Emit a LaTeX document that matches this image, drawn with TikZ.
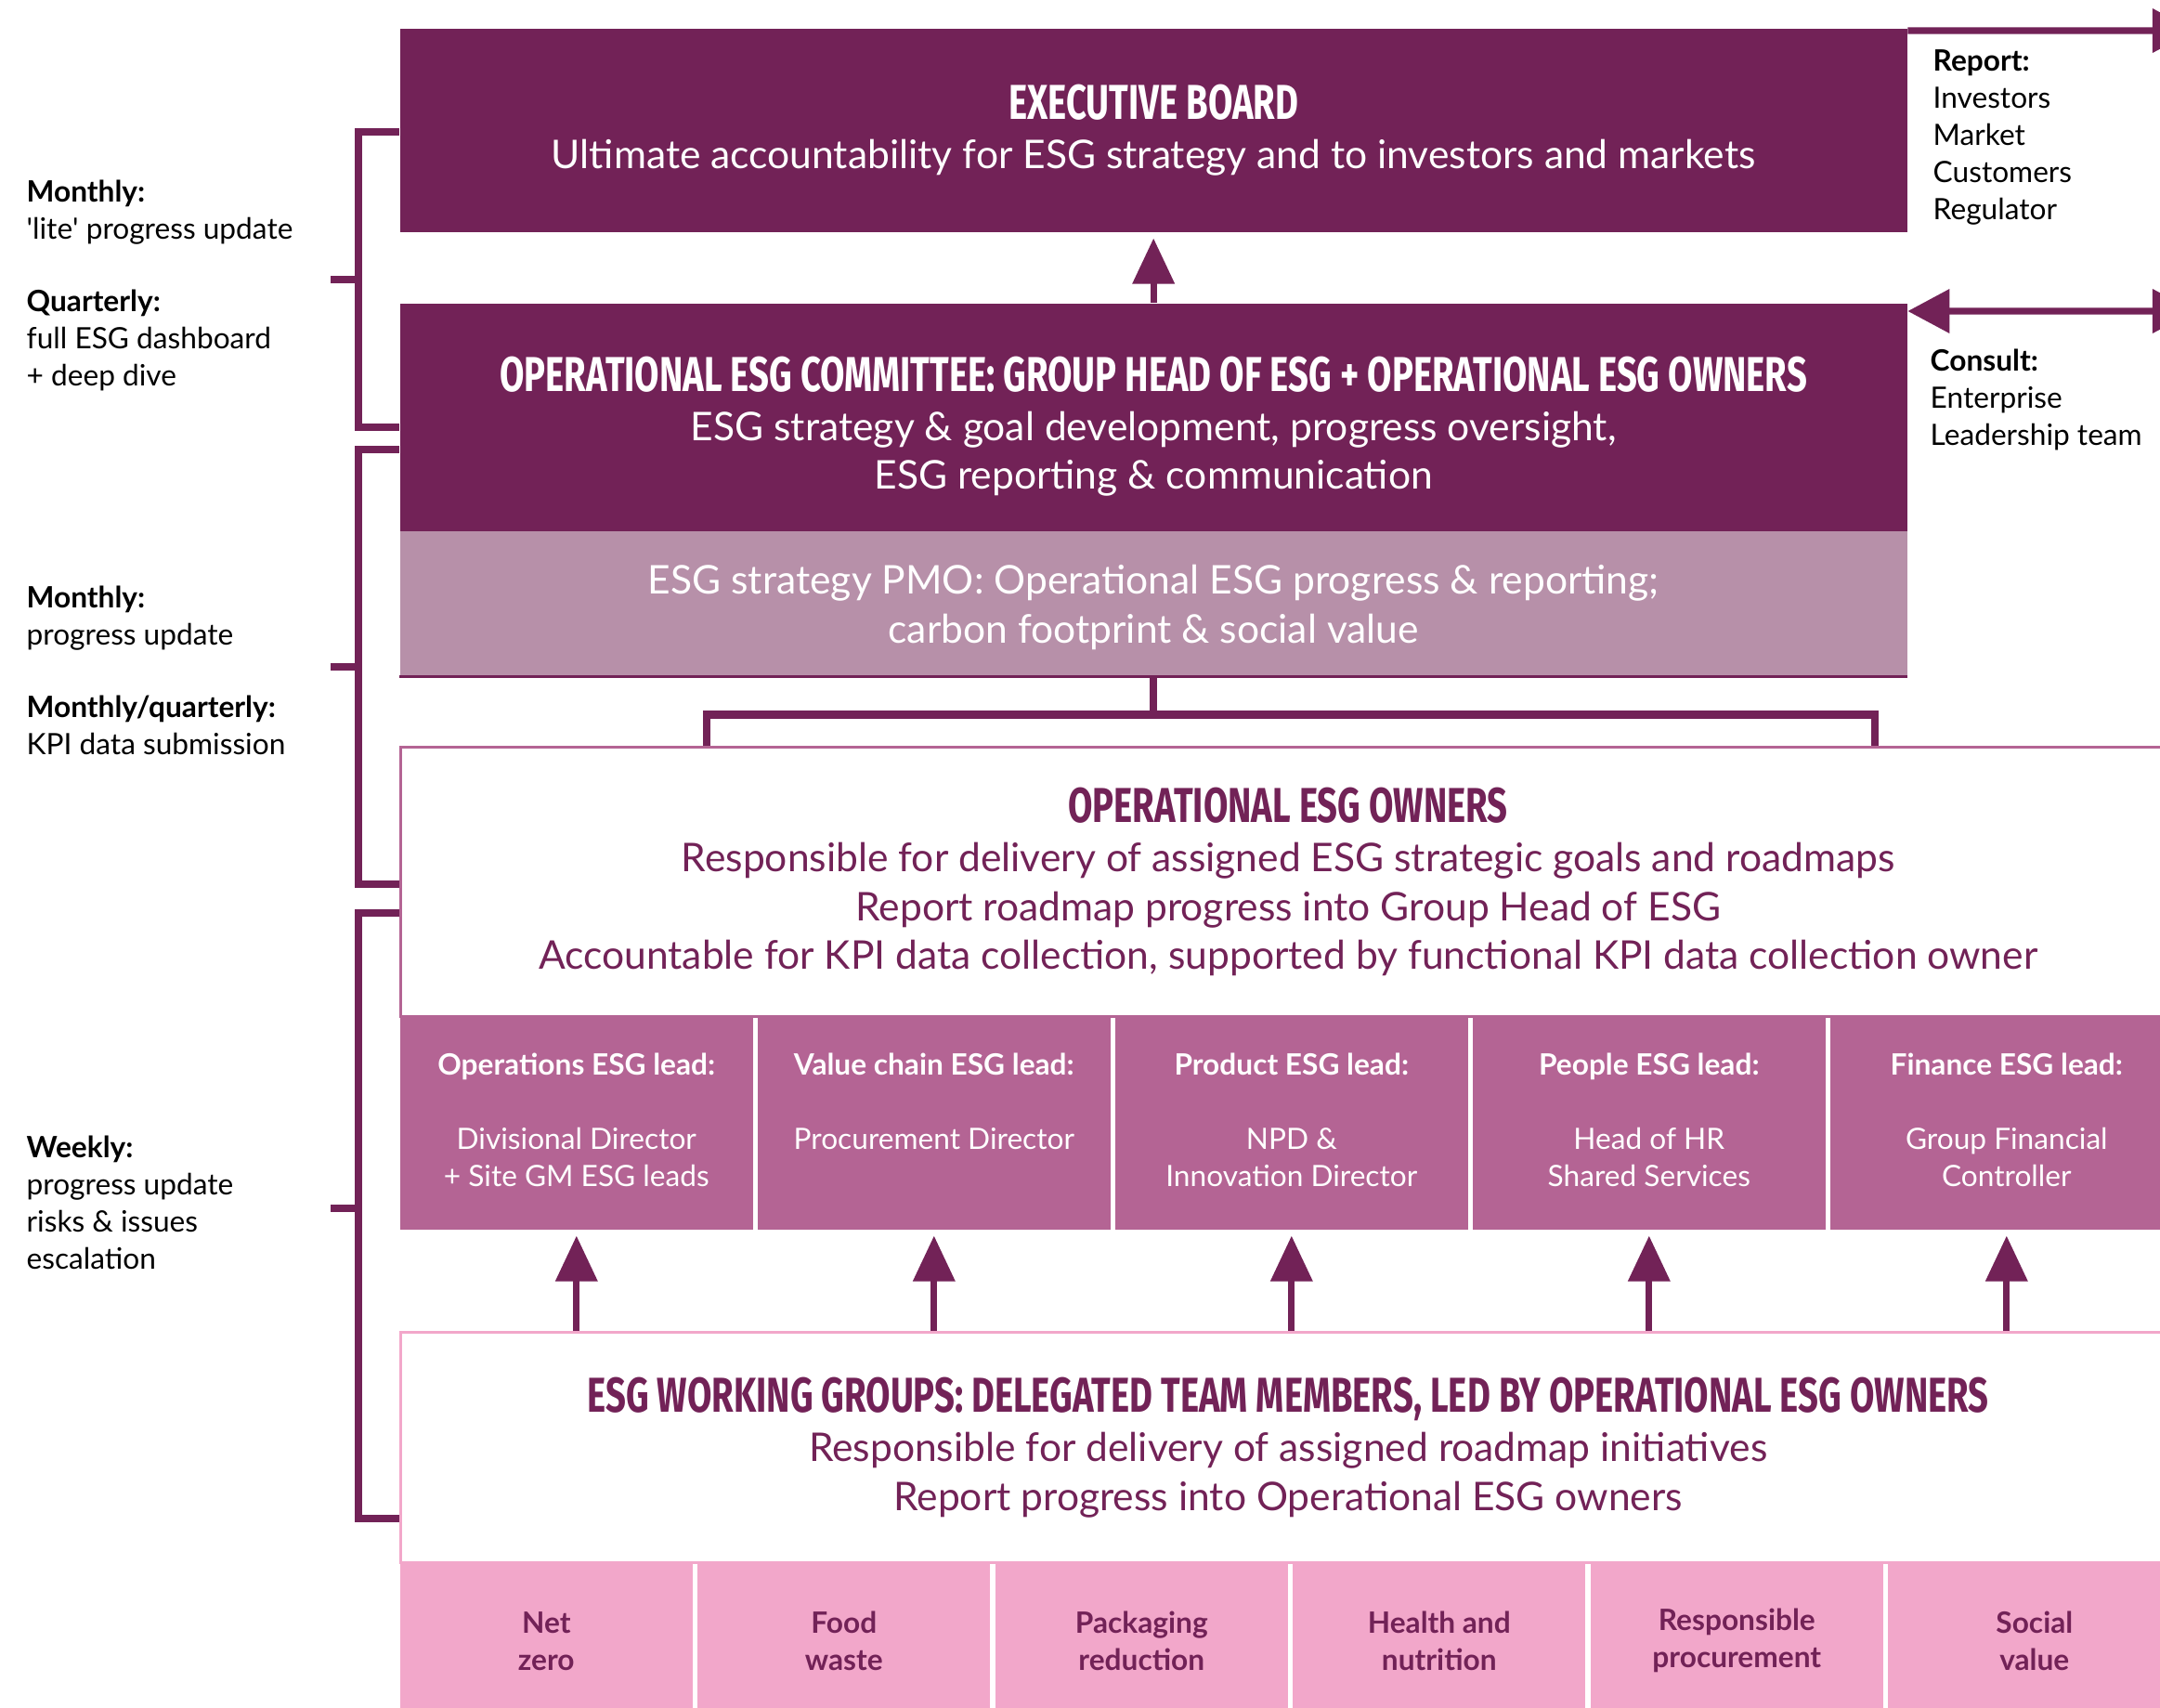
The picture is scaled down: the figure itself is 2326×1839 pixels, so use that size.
\documentclass[tikz,border=0pt]{standalone}
\usepackage{fontspec}
\setmainfont{Lato}
\newfontfamily\headfont[FakeStretch=0.725]{Fira Sans}
\usepackage{tikz}
\usetikzlibrary{positioning,arrows.meta}
\usepackage{xcolor}
\definecolor{esgdark}{HTML}{722257}
\definecolor{esgmauve}{HTML}{B790A9}
\definecolor{esglead}{HTML}{B46494}
\definecolor{esgpink}{HTML}{F2A7CA}
\newcommand\esghead[1]{{\headfont\bfseries\fontsize{15}{18}\selectfont #1}}

\begin{document}
\begin{tikzpicture}[x=0.01cm, y=-0.01cm,
    band/.style={rectangle, inner sep=0pt, anchor=north west, align=center, text=white,
      font=\fontsize{12.1}{15}\selectfont},
    lead/.style={rectangle, inner sep=0pt, anchor=north west, fill=esglead,
      minimum width=3.8cm, minimum height=2.3cm},
    leadtxt/.style={align=center, text=white, inner sep=0pt, anchor=north,
      font=\fontsize{9}{11.4}\selectfont},
    tile/.style={rectangle, inner sep=0pt, anchor=north west, fill=esgpink,
      minimum width=3.15cm, minimum height=1.7cm, align=center, text=esgdark,
      font=\fontsize{9}{11.4}\selectfont\bfseries},
    freq/.style={align=left, anchor=north west, inner sep=0pt,
      font=\fontsize{9}{11.4}\selectfont},
    link/.style={esgdark, line width=2.3pt},
    up/.style={esgdark, line width=2pt, shorten >=0.06cm,
      -{Triangle[length=0.49cm, width=0.44cm]}},
  ]
                \useasboundingbox (0,0) rectangle (2326,1839);

                % Executive board
                \node[band, fill=esgdark, minimum width=16.22cm, minimum height=2.19cm] (exec) at (430,30) {
                \esghead{EXECUTIVE BOARD}\\
                Ultimate accountability for ESG strategy and to investors and markets
                };

                % Committee + PMO band
                \node[band, fill=esgdark, minimum width=16.22cm, minimum height=2.45cm] (committee) at (430,326) {};
                \node[band, anchor=center] (committeetxt) at ([yshift=-0.1cm]committee.center) {
                \esghead{OPERATIONAL ESG COMMITTEE: GROUP HEAD OF ESG + OPERATIONAL ESG OWNERS}\\
                ESG strategy \& goal development, progress oversight,\\
                ESG reporting \& communication
                };
                \node[band, fill=esgmauve, minimum width=16.22cm, minimum height=1.56cm] (pmo) at (430,571) {};
                \node[band, anchor=center] (pmotxt) at ([yshift=-0.04cm]pmo.center) {
                ESG strategy PMO: Operational ESG progress \& reporting;\\
                carbon footprint \& social value
                };
                \draw[esgdark, line width=0.8pt] (pmo.south west) -- (pmo.south east);
                \draw[up] (committee.north) -- (exec.south);

                % Operational ESG owners
                \node[band, fill=white, draw=esglead, line width=0.9pt, text=esgdark,
                  minimum width=19.1cm, minimum height=2.9cm] (owners) at (430,803) {
                \esghead{OPERATIONAL ESG OWNERS}\\
                Responsible for delivery of assigned ESG strategic goals and roadmaps\\
                Report roadmap progress into Group Head of ESG\\
                Accountable for KPI data collection, supported by functional KPI data collection owner
                };
                \draw[link] (pmo.south) -- ++(0,41) coordinate (fork);
                \draw[link] (owners.north -| 761,0) |- (fork) -| (owners.north -| 2019,0);

                % ESG leads
                \foreach \ttl/\who [count=\i from 0] in {
                  Operations ESG lead:/Divisional Director\\+ Site GM ESG leads,
                  Value chain ESG lead:/Procurement Director,
                  Product ESG lead:/NPD \&\\Innovation Director,
                  People ESG lead:/Head of HR\\Shared Services,
                  Finance ESG lead:/Group Financial\\Controller} {
                  \node[lead] (lead\i) at (430+385*\i,1093) {};
                  \node[leadtxt] (leadtxt\i) at ([yshift=-0.4cm]lead\i.north) {\textbf{\ttl}\\[11.4pt]\who};
                }

                % ESG working groups
                \node[band, fill=white, draw=esgpink, line width=0.9pt, text=esgdark,
                  minimum width=19.1cm, minimum height=2.48cm] (wg) at (430,1433) {
                \esghead{ESG WORKING GROUPS: DELEGATED TEAM MEMBERS, LED BY OPERATIONAL ESG OWNERS}\\
                Responsible for delivery of assigned roadmap initiatives\\
                Report progress into Operational ESG owners
                };
                \foreach \i in {0,...,4}
                  \draw[up] (lead\i.south |- wg.north) -- (lead\i.south);

                % Workstream tiles
                \foreach \txt [count=\i from 0] in {Net\\zero, Food\\waste, Packaging\\reduction,
                  Health and\\nutrition, Responsible\\procurement, Social\\value}
                  \node[tile] (tile\i) at (430+320.5*\i,1681) {\txt};

                % Reporting / consulting (right)
                \coordinate (reportend) at (2363,33);
                \coordinate (consultend) at (2363,335);
                \draw[link, line width=2pt, -{Triangle[length=0.45cm, width=0.46cm]}]
                  ([yshift=-0.03cm]exec.north east) -- (reportend);
                \draw[link, line width=2pt, {Triangle[length=0.45cm, width=0.46cm]}-{Triangle[length=0.45cm, width=0.46cm]}]
                  ([yshift=-0.09cm]committee.north east) -- (consultend);
                \node[freq] (report) at (2081,53) {\textbf{Report:}\\Investors\\Market\\Customers\\Regulator};
                \node[freq] (consult) at (2078,375) {\textbf{Consult:}\\Enterprise\\Leadership team};

                % Meeting rhythm brackets (left)
                \draw[link] (exec.west |- 0,142) -- (386,142) -- (386,460) -- (committee.west |- 0,460);
                \draw[link] (386,301) -- ++(-30,0);
                \draw[link] (committee.west |- 0,484) -- (386,484) -- (386,952) -- (owners.west |- 0,952);
                \draw[link] (386,718) -- ++(-30,0);
                \draw[link] (owners.west |- 0,983) -- (386,983) -- (386,1635) -- (wg.west |- 0,1635);
                \draw[link] (386,1301) -- ++(-30,0);

                \node[freq] (rhythm1) at (28,193) {\textbf{Monthly:}\\\textquotesingle lite\textquotesingle{} progress update\\[10.8pt]
                  \textbf{Quarterly:}\\full ESG dashboard\\+ deep dive};
                \node[freq] (rhythm2) at (28,630) {\textbf{Monthly:}\\progress update\\[10.8pt]
                  \textbf{Monthly/quarterly:}\\KPI data submission};
                \node[freq] (rhythm3) at (28,1222) {\textbf{Weekly:}\\progress update\\risks \& issues\\escalation};
\end{tikzpicture}
\end{document}
